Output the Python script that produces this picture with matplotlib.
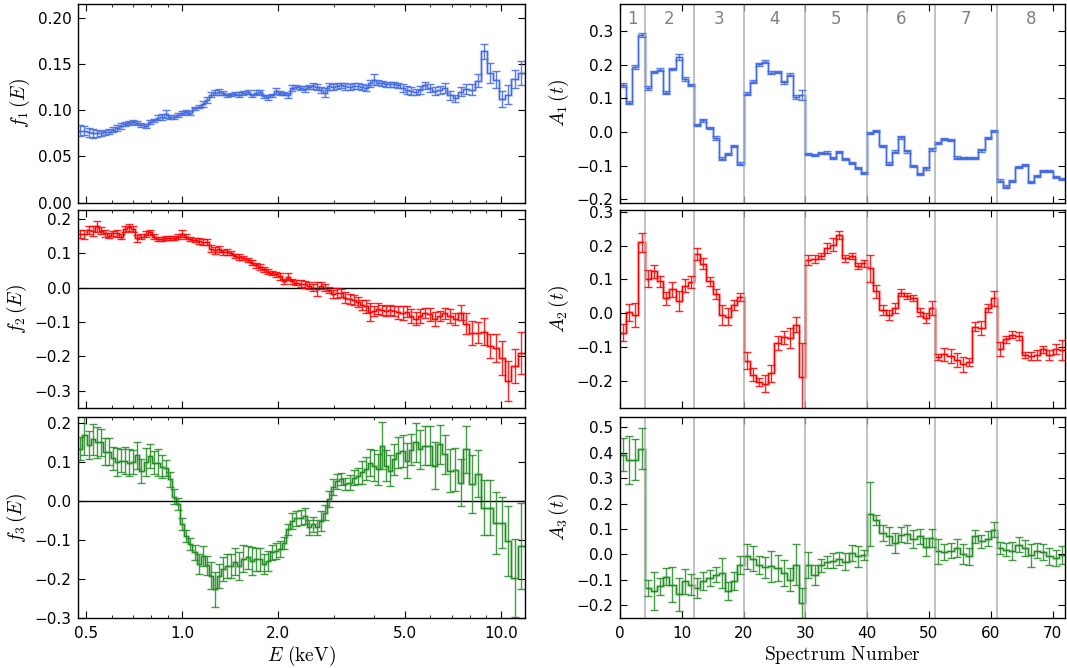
import numpy as np
import matplotlib
matplotlib.use('Agg')
import matplotlib.pyplot as plt
from matplotlib.ticker import FixedLocator, FuncFormatter, LogLocator, NullFormatter, MultipleLocator

# ---------------- data ----------------
energy_edges = [
    0.472, 0.486, 0.501, 0.516, 0.531, 0.547, 0.563, 0.580, 0.597, 0.615,
    0.634, 0.653, 0.672, 0.692, 0.713, 0.734, 0.756, 0.779, 0.802, 0.826,
    0.851, 0.876, 0.903, 0.930, 0.957, 0.986, 1.016, 1.046, 1.077, 1.109,
    1.143, 1.177, 1.212, 1.248, 1.285, 1.324, 1.364, 1.404, 1.446, 1.490,
    1.534, 1.580, 1.627, 1.676, 1.726, 1.778, 1.831, 1.885, 1.942, 2.000,
    2.060, 2.121, 2.185, 2.250, 2.317, 2.387, 2.458, 2.532, 2.607, 2.685,
    2.766, 2.848, 2.933, 3.021, 3.111, 3.205, 3.300, 3.399, 3.501, 3.605,
    3.713, 3.824, 3.939, 4.056, 4.178, 4.303, 4.431, 4.564, 4.700, 4.841,
    4.985, 5.147, 5.313, 5.489, 5.675, 5.873, 6.083, 6.303, 6.538, 6.787,
    7.052, 7.333, 7.631, 7.947, 8.284, 8.641, 9.017, 9.422, 9.849, 10.306,
    10.792, 11.311, 11.863]

f1 = [
    0.078, 0.078, 0.076, 0.075, 0.075, 0.075, 0.076, 0.077, 0.079, 0.081,
    0.083, 0.085, 0.086, 0.087, 0.086, 0.084, 0.083, 0.087, 0.089, 0.092,
    0.093, 0.096, 0.093, 0.093, 0.095, 0.097, 0.098, 0.097, 0.102, 0.104,
    0.107, 0.111, 0.117, 0.119, 0.120, 0.119, 0.116, 0.117, 0.118, 0.117,
    0.119, 0.120, 0.116, 0.119, 0.120, 0.115, 0.114, 0.116, 0.121, 0.119,
    0.118, 0.116, 0.124, 0.125, 0.124, 0.123, 0.125, 0.126, 0.125, 0.122,
    0.119, 0.126, 0.125, 0.126, 0.127, 0.126, 0.125, 0.126, 0.126, 0.125,
    0.124, 0.129, 0.133, 0.130, 0.129, 0.128, 0.128, 0.128, 0.127, 0.124,
    0.122, 0.121, 0.120, 0.122, 0.127, 0.124, 0.121, 0.122, 0.124, 0.116,
    0.113, 0.120, 0.123, 0.122, 0.132, 0.164, 0.140, 0.133, 0.112, 0.117,
    0.134, 0.140]
f1_err = [
    0.006, 0.005, 0.005, 0.005, 0.004, 0.003, 0.003, 0.003, 0.003, 0.003,
    0.003, 0.002, 0.002, 0.002, 0.002, 0.002, 0.002, 0.002, 0.002, 0.003,
    0.003, 0.004, 0.002, 0.002, 0.002, 0.002, 0.002, 0.002, 0.002, 0.002,
    0.003, 0.003, 0.003, 0.003, 0.003, 0.002, 0.002, 0.002, 0.002, 0.003,
    0.002, 0.002, 0.002, 0.003, 0.002, 0.002, 0.003, 0.002, 0.003, 0.002,
    0.002, 0.003, 0.003, 0.002, 0.002, 0.003, 0.002, 0.003, 0.003, 0.003,
    0.005, 0.004, 0.003, 0.003, 0.003, 0.004, 0.003, 0.003, 0.003, 0.003,
    0.003, 0.004, 0.006, 0.003, 0.003, 0.003, 0.003, 0.003, 0.003, 0.004,
    0.004, 0.004, 0.003, 0.004, 0.004, 0.004, 0.004, 0.004, 0.005, 0.005,
    0.004, 0.005, 0.005, 0.006, 0.007, 0.008, 0.011, 0.009, 0.009, 0.010,
    0.010, 0.013]

f2 = [
    0.156, 0.154, 0.167, 0.165, 0.178, 0.165, 0.157, 0.151, 0.157, 0.158,
    0.148, 0.170, 0.175, 0.170, 0.143, 0.148, 0.155, 0.160, 0.148, 0.142,
    0.142, 0.143, 0.145, 0.143, 0.148, 0.156, 0.148, 0.142, 0.139, 0.135,
    0.132, 0.132, 0.113, 0.108, 0.112, 0.102, 0.103, 0.100, 0.092, 0.089,
    0.085, 0.080, 0.072, 0.064, 0.060, 0.053, 0.046, 0.042, 0.038, 0.033,
    0.018, 0.032, 0.018, 0.014, 0.011, 0.010, 0.005, 0.000, -0.005, 0.005,
    0.000, -0.007, -0.019, -0.015, -0.015, -0.029, -0.034, -0.036, -0.042, -0.051,
    -0.055, -0.071, -0.068, -0.061, -0.065, -0.068, -0.066, -0.068, -0.072, -0.074,
    -0.070, -0.083, -0.090, -0.083, -0.073, -0.078, -0.092, -0.083, -0.075, -0.083,
    -0.092, -0.073, -0.105, -0.131, -0.131, -0.128, -0.170, -0.175, -0.205, -0.270,
    -0.228, -0.190]
f2_err = [
    0.012, 0.012, 0.012, 0.015, 0.016, 0.010, 0.010, 0.008, 0.008, 0.010,
    0.008, 0.010, 0.010, 0.010, 0.010, 0.008, 0.008, 0.008, 0.006, 0.006,
    0.006, 0.006, 0.006, 0.006, 0.008, 0.010, 0.006, 0.006, 0.006, 0.008,
    0.008, 0.008, 0.010, 0.010, 0.010, 0.008, 0.008, 0.006, 0.006, 0.008,
    0.006, 0.006, 0.008, 0.008, 0.008, 0.008, 0.008, 0.006, 0.008, 0.010,
    0.008, 0.010, 0.008, 0.008, 0.010, 0.010, 0.010, 0.010, 0.020, 0.010,
    0.010, 0.010, 0.012, 0.015, 0.012, 0.015, 0.015, 0.015, 0.015, 0.015,
    0.020, 0.025, 0.015, 0.015, 0.015, 0.015, 0.015, 0.015, 0.018, 0.020,
    0.015, 0.020, 0.020, 0.020, 0.015, 0.020, 0.020, 0.015, 0.015, 0.020,
    0.018, 0.022, 0.030, 0.035, 0.030, 0.040, 0.035, 0.040, 0.050, 0.058,
    0.050, 0.060]

f3 = [
    0.134, 0.168, 0.143, 0.158, 0.150, 0.150, 0.126, 0.126, 0.109, 0.100,
    0.103, 0.103, 0.098, 0.100, 0.117, 0.077, 0.100, 0.115, 0.098, 0.098,
    0.088, 0.085, 0.055, 0.011, -0.007, -0.060, -0.090, -0.111, -0.132, -0.162,
    -0.141, -0.165, -0.192, -0.226, -0.192, -0.175, -0.167, -0.167, -0.156, -0.167,
    -0.148, -0.145, -0.154, -0.150, -0.150, -0.162, -0.154, -0.132, -0.128, -0.124,
    -0.107, -0.073, -0.051, -0.045, -0.043, -0.038, -0.068, -0.060, -0.068, -0.051,
    -0.030, 0.005, 0.035, 0.050, 0.057, 0.043, 0.047, 0.060, 0.064, 0.073,
    0.083, 0.098, 0.090, 0.081, 0.141, 0.090, 0.077, 0.107, 0.124, 0.128,
    0.103, 0.131, 0.150, 0.132, 0.141, 0.141, 0.090, 0.145, 0.120, 0.077,
    0.080, 0.047, 0.132, 0.043, 0.070, -0.017, -0.017, -0.056, -0.056, -0.103,
    -0.197, -0.115]
f3_err = [
    0.030, 0.050, 0.035, 0.040, 0.040, 0.035, 0.035, 0.035, 0.030, 0.035,
    0.030, 0.035, 0.035, 0.030, 0.035, 0.030, 0.035, 0.030, 0.030, 0.035,
    0.030, 0.020, 0.020, 0.020, 0.015, 0.015, 0.015, 0.015, 0.020, 0.025,
    0.025, 0.025, 0.035, 0.045, 0.030, 0.030, 0.030, 0.030, 0.035, 0.035,
    0.035, 0.030, 0.035, 0.030, 0.030, 0.025, 0.025, 0.020, 0.020, 0.020,
    0.015, 0.015, 0.020, 0.020, 0.020, 0.020, 0.020, 0.020, 0.020, 0.025,
    0.020, 0.020, 0.020, 0.020, 0.015, 0.015, 0.020, 0.020, 0.020, 0.030,
    0.030, 0.035, 0.040, 0.040, 0.060, 0.040, 0.040, 0.040, 0.040, 0.040,
    0.045, 0.040, 0.050, 0.050, 0.050, 0.050, 0.060, 0.050, 0.050, 0.055,
    0.055, 0.060, 0.060, 0.075, 0.060, 0.070, 0.070, 0.080, 0.065, 0.090,
    0.100, 0.110]

spectrum_edges = np.arange(0, 73)
region_bounds = [4, 12, 20, 30, 40, 51, 61]
region_labels = ['1', '2', '3', '4', '5', '6', '7', '8']

A1 = [
    0.139, 0.087, 0.193, 0.289, 0.131, 0.178, 0.185, 0.117, 0.188, 0.224,
    0.157, 0.139, 0.020, 0.035, 0.012, -0.018, -0.079, -0.065, -0.042, -0.094,
    0.114, 0.149, 0.201, 0.209, 0.176, 0.178, 0.147, 0.170, 0.103, 0.110,
    -0.065, -0.068, -0.063, -0.061, -0.076, -0.059, -0.081, -0.091, -0.106, -0.123,
    -0.003, 0.002, -0.042, -0.094, -0.059, -0.016, -0.057, -0.101, -0.125, -0.108,
    -0.052, -0.034, -0.022, -0.023, -0.076, -0.078, -0.078, -0.077, -0.055, -0.018,
    0.002, -0.145, -0.162, -0.147, -0.103, -0.099, -0.150, -0.130, -0.115, -0.115,
    -0.135, -0.141]
A1_err = [
    0.005, 0.005, 0.007, 0.006, 0.005, 0.004, 0.005, 0.004, 0.003, 0.009,
    0.006, 0.003, 0.003, 0.004, 0.004, 0.005, 0.004, 0.003, 0.004, 0.004,
    0.004, 0.004, 0.004, 0.004, 0.004, 0.004, 0.004, 0.005, 0.006, 0.015,
    0.003, 0.003, 0.003, 0.003, 0.003, 0.003, 0.003, 0.003, 0.003, 0.003,
    0.004, 0.003, 0.003, 0.004, 0.004, 0.004, 0.004, 0.004, 0.004, 0.004,
    0.004, 0.003, 0.003, 0.003, 0.004, 0.003, 0.003, 0.003, 0.004, 0.004,
    0.003, 0.004, 0.003, 0.003, 0.003, 0.003, 0.003, 0.003, 0.003, 0.003,
    0.003, 0.003]

A2 = [
    -0.058, 0.003, -0.005, 0.210, 0.102, 0.124, 0.094, 0.044, 0.071, 0.036,
    0.082, 0.092, 0.174, 0.147, 0.094, 0.058, -0.005, -0.010, 0.024, 0.048,
    -0.140, -0.181, -0.203, -0.208, -0.177, -0.087, -0.071, -0.073, -0.034, -0.189,
    0.158, 0.160, 0.169, 0.194, 0.203, 0.232, 0.162, 0.169, 0.140, 0.148,
    0.133, 0.065, 0.010, -0.005, 0.015, 0.061, 0.051, 0.045, 0.005, -0.013,
    0.016, -0.129, -0.121, -0.126, -0.138, -0.150, -0.145, -0.039, -0.044, 0.016,
    0.045, -0.106, -0.077, -0.063, -0.068, -0.123, -0.126, -0.123, -0.106, -0.123,
    -0.106, -0.109]
A2_err = [
    0.025, 0.025, 0.035, 0.028, 0.025, 0.020, 0.015, 0.020, 0.022, 0.030,
    0.020, 0.018, 0.018, 0.015, 0.012, 0.015, 0.030, 0.025, 0.015, 0.012,
    0.025, 0.020, 0.012, 0.025, 0.025, 0.020, 0.020, 0.030, 0.022, 0.100,
    0.015, 0.012, 0.010, 0.015, 0.020, 0.012, 0.010, 0.010, 0.010, 0.010,
    0.040, 0.020, 0.015, 0.015, 0.015, 0.010, 0.008, 0.010, 0.012, 0.015,
    0.020, 0.010, 0.020, 0.020, 0.020, 0.022, 0.012, 0.012, 0.020, 0.012,
    0.022, 0.020, 0.010, 0.010, 0.012, 0.010, 0.012, 0.015, 0.010, 0.015,
    0.015, 0.030]

A3 = [
    0.392, 0.372, 0.372, 0.415, -0.132, -0.145, -0.126, -0.087, -0.119, -0.156,
    -0.106, -0.119, -0.132, -0.104, -0.093, -0.080, -0.073, -0.143, -0.106, -0.041,
    -0.008, -0.017, -0.041, -0.051, -0.047, -0.054, -0.073, -0.100, -0.041, -0.191,
    -0.041, -0.080, -0.043, -0.030, -0.025, -0.017, -0.028, 0.005, -0.008, -0.001,
    0.159, 0.136, 0.084, 0.071, 0.045, 0.077, 0.080, 0.062, 0.071, 0.028,
    0.064, 0.012, 0.009, 0.014, 0.025, 0.001, -0.008, 0.071, 0.051, 0.062,
    0.097, 0.025, 0.018, 0.012, 0.038, 0.025, -0.004, 0.014, 0.009, -0.008,
    -0.014, -0.004]
A3_err = [
    0.065, 0.095, 0.080, 0.080, 0.030, 0.075, 0.035, 0.035, 0.068, 0.065,
    0.050, 0.040, 0.040, 0.035, 0.030, 0.030, 0.060, 0.035, 0.035, 0.035,
    0.050, 0.050, 0.035, 0.040, 0.060, 0.050, 0.050, 0.045, 0.080, 0.060,
    0.050, 0.040, 0.025, 0.025, 0.030, 0.025, 0.035, 0.030, 0.040, 0.020,
    0.125, 0.020, 0.030, 0.035, 0.040, 0.030, 0.035, 0.035, 0.030, 0.035,
    0.035, 0.050, 0.030, 0.030, 0.035, 0.040, 0.035, 0.025, 0.025, 0.030,
    0.030, 0.025, 0.025, 0.035, 0.030, 0.030, 0.045, 0.030, 0.030, 0.035,
    0.030, 0.035]

# ---------------- style ----------------
plt.rcParams.update({
    'font.family': ['DejaVu Sans'],
    'font.size': 11,
    'mathtext.fontset': 'cm',
    'xtick.direction': 'in', 'ytick.direction': 'in',
    'xtick.top': True, 'ytick.right': True,
    'xtick.major.size': 5, 'ytick.major.size': 5,
    'xtick.minor.size': 2.5, 'ytick.minor.size': 2.5,
    'xtick.major.pad': 6, 'ytick.major.pad': 5,
    'axes.linewidth': 1.0,
})

BLUE = '#4169e1'
RED = '#ff0000'
GREEN = '#228b22'

fig = plt.figure(figsize=(10.67, 6.68), dpi=100)

rows = [(0.6966, 0.2974), (0.389, 0.2966), (0.0749, 0.3008)]
lx, lw = 0.0734, 0.4186
rx, rw = 0.581, 0.417

E_edges = np.asarray(energy_edges)
E_cent = np.sqrt(E_edges[:-1] * E_edges[1:])
S_edges = np.asarray(spectrum_edges, dtype=float)
S_cent = 0.5 * (S_edges[:-1] + S_edges[1:])


def draw(ax, edges, cents, vals, errs, color):
    ax.stairs(vals, edges, color=color, lw=2.4, alpha=0.25, baseline=None)
    ax.stairs(vals, edges, color=color, lw=1.0, baseline=None)
    ax.errorbar(cents, vals, yerr=errs, fmt='none', ecolor=color,
                elinewidth=1.0, capsize=3, capthick=1.0, alpha=0.85)


left_series = [(f1, f1_err, BLUE, r'$f_1\,(E)$', (0.0, 0.215), 0.05),
               (f2, f2_err, RED, r'$f_2\,(E)$', (-0.35, 0.225), 0.1),
               (f3, f3_err, GREEN, r'$f_3\,(E)$', (-0.3, 0.215), 0.1)]
right_series = [(A1, A1_err, BLUE, r'$A_1\,(t)$', (-0.21, 0.38)),
                (A2, A2_err, RED, r'$A_2\,(t)$', (-0.28, 0.305)),
                (A3, A3_err, GREEN, r'$A_3\,(t)$', (-0.25, 0.54))]

for i, (vals, errs, col, lab, ylim, step) in enumerate(left_series):
    b, h = rows[i]
    ax = fig.add_axes([lx, b, lw, h])
    ax.set_xscale('log')
    if i > 0:
        ax.axhline(0, color='black', lw=1)
    draw(ax, E_edges, E_cent, vals, errs, col)
    ax.set_xlim(0.472, 11.9)
    ax.set_ylim(*ylim)
    ax.yaxis.set_major_locator(MultipleLocator(step))
    ax.xaxis.set_major_locator(FixedLocator([0.5, 1.0, 2.0, 5.0, 10.0]))
    ax.xaxis.set_major_formatter(FuncFormatter(lambda x, p: f'{x:.1f}'))
    ax.xaxis.set_minor_locator(LogLocator(base=10, subs=np.arange(2, 10)))
    ax.xaxis.set_minor_formatter(NullFormatter())
    ax.set_ylabel(lab, fontsize=14)
    if i < 2:
        ax.tick_params(labelbottom=False)
    else:
        ax.set_xlabel(r'$E\ (\mathrm{keV})$', fontsize=14, labelpad=2)

for i, (vals, errs, col, lab, ylim) in enumerate(right_series):
    b, h = rows[i]
    ax = fig.add_axes([rx, b, rw, h])
    for xb in region_bounds:
        ax.axvline(xb, color='#b0b0b0', lw=1.1)
    draw(ax, S_edges, S_cent, vals, errs, col)
    ax.set_xlim(0, 72)
    ax.set_ylim(*ylim)
    ax.xaxis.set_major_locator(MultipleLocator(10))
    ax.yaxis.set_major_locator(MultipleLocator(0.1))
    ax.set_ylabel(lab, fontsize=14)
    if i == 0:
        bnds = [0] + region_bounds + [72]
        for k, txt in enumerate(region_labels):
            ax.text(0.5 * (bnds[k] + bnds[k + 1]), 0.335, txt, color='gray',
                    fontsize=12, ha='center', va='center')
    if i < 2:
        ax.tick_params(labelbottom=False)
    else:
        ax.set_xlabel(r'$\mathrm{Spectrum\ Number}$', fontsize=14, labelpad=2)

fig.savefig('out.png', dpi=100)
